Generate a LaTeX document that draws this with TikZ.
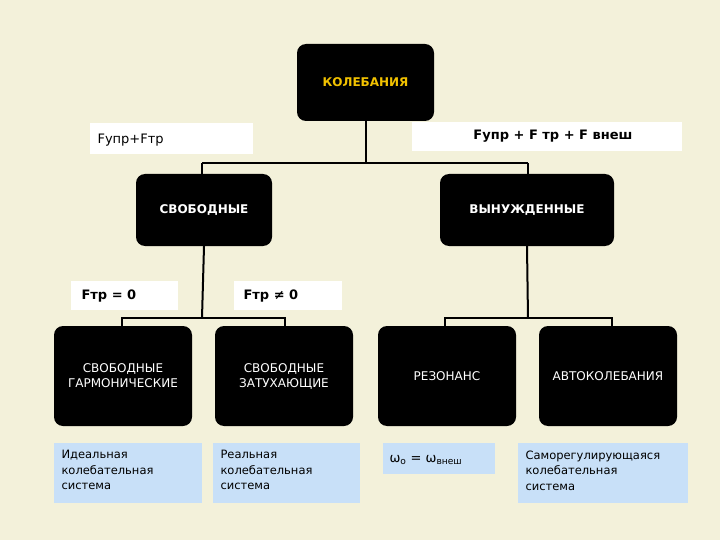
\documentclass[tikz,border=0pt]{standalone}
\usepackage{fontspec}
\setmainfont{DejaVu Sans}
\definecolor{bg}{HTML}{F3F1DA}
\definecolor{lb}{HTML}{C8E0F8}
\definecolor{yel}{HTML}{F2C200}
\begin{document}
\begin{tikzpicture}[x=1pt,y=-1pt,
 blk/.style={fill=black,rounded corners=9pt,text=white,align=center,font=\fontsize{12}{15}\selectfont},
 lbl/.style={fill=white,anchor=north west,inner sep=0pt,font=\bfseries\fontsize{13}{15}\selectfont},
 note/.style={fill=lb,align=left,font=\fontsize{11.5}{14.5}\selectfont,inner sep=0pt,anchor=north west},
 ln/.style={line width=2pt}]
\fill[bg] (0,0) rectangle (720,540);
\useasboundingbox (0,0) rectangle (720,540);
% top
\node[blk,minimum width=137pt,minimum height=77pt,text=yel,font=\bfseries\fontsize{12}{15}\selectfont] (root) at (365.5,82.5) {КОЛЕБАНИЯ};
\node[lbl,minimum width=163pt,minimum height=31pt] (l1) at (90,123) {};
\node[anchor=west,font=\fontsize{13}{15}\selectfont] at (94,140) {Fупр+Fтр};
\node[lbl,minimum width=270pt,minimum height=29pt] (l2) at (412,122) {};
\node[anchor=east,font=\bfseries\fontsize{13}{15}\selectfont] at (636,136) {Fупр + F тр + F внеш};
\node[blk,minimum width=136pt,minimum height=72pt,font=\bfseries\fontsize{12}{15}\selectfont] (free) at (204,210) {СВОБОДНЫЕ};
\node[blk,minimum width=174pt,minimum height=72pt,font=\bfseries\fontsize{12}{15}\selectfont] (forced) at (527,210) {ВЫНУЖДЕННЫЕ};
\coordinate (j1) at (365.5,163);
\draw[ln] (root.south) -- (j1);
\draw[ln] (202,163) -- (528,163);
\draw[ln] (202,163) -- (202,174);
\draw[ln] (528,163) -- (528,174);
% labels
\node[lbl,minimum width=107pt,minimum height=29pt] (l3) at (71,281) {};
\node[anchor=west,font=\bfseries\fontsize{13}{15}\selectfont] at (78,296) {Fтр = 0};
\node[lbl,minimum width=108pt,minimum height=29pt] (l4) at (234,281) {};
\node[anchor=west,font=\bfseries\fontsize{13}{15}\selectfont] at (240,296) {Fтр ≠ 0};
% bottom boxes
\node[blk,minimum width=138pt,minimum height=100pt] (a) at (123,376) {СВОБОДНЫЕ\\ГАРМОНИЧЕСКИЕ};
\node[blk,minimum width=138pt,minimum height=100pt] (b) at (284,376) {СВОБОДНЫЕ\\ЗАТУХАЮЩИЕ};
\node[blk,minimum width=138pt,minimum height=100pt] (c) at (447,376) {РЕЗОНАНС};
\node[blk,minimum width=138pt,minimum height=100pt] (d) at (608,376) {АВТОКОЛЕБАНИЯ};
\draw[ln] (free.south) -- (202,318);
\draw[ln] (122,326) -- (122,318) -- (285,318) -- (285,326);
\draw[ln] (forced.south) -- (528,318);
\draw[ln] (445,326) -- (445,318) -- (612,318) -- (612,326);
% notes
\node[note,minimum width=148pt,minimum height=60pt] (n1) at (54,443) {};
\node[anchor=north west,align=left,font=\fontsize{11.5}{15.5}\selectfont] at (58,447) {Идеальная\\колебательная\\система};
\node[note,minimum width=147pt,minimum height=60pt] (n2) at (213,443) {};
\node[anchor=north west,align=left,font=\fontsize{11.5}{15.5}\selectfont] at (217,447) {Реальная\\колебательная\\система};
\node[note,minimum width=112pt,minimum height=31pt] (n3) at (383,443) {};
\node[anchor=west,font=\fontsize{13}{15}\selectfont] at (386,460) {ω\textsubscript{о} = ω\textsubscript{внеш}};
\node[note,minimum width=170pt,minimum height=60pt] (n4) at (518,443) {};
\node[anchor=north west,align=left,font=\fontsize{11.5}{15.5}\selectfont] at (522,447) {Саморегулирующаяся\\колебательная\\система};
\end{tikzpicture}
\end{document}
